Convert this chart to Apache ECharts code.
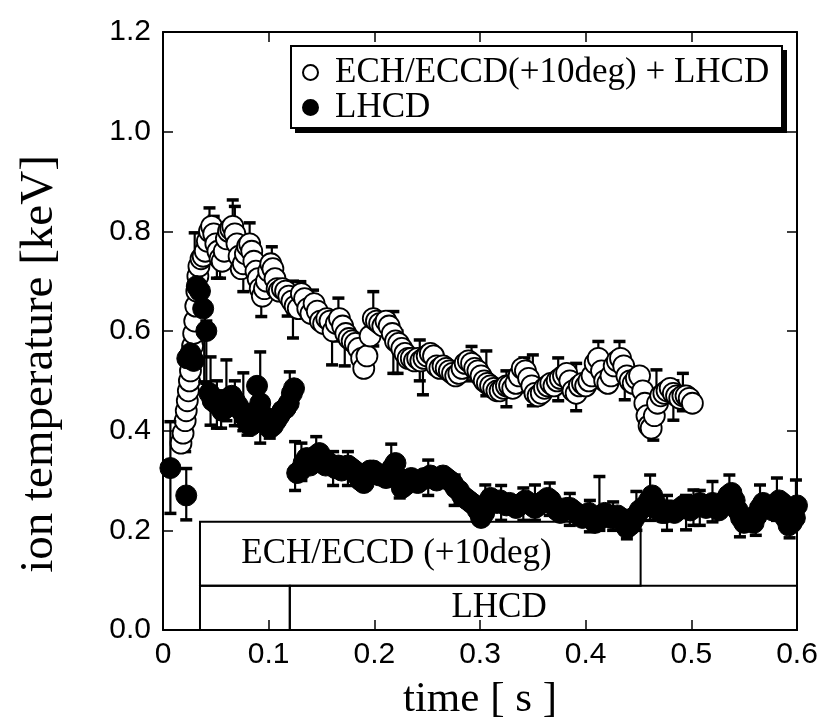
<!DOCTYPE html>
<html><head><meta charset="utf-8">
<script src="https://cdn.jsdelivr.net/npm/echarts@6/dist/echarts.min.js"></script>
<style>html,body{margin:0;padding:0;background:#fff}#c{width:833px;height:723px}</style>
</head><body><div id="c"></div>
<script>
// ---- data ----
const xTicks = [0, 0.1, 0.2, 0.3, 0.4, 0.5, 0.6];
const yTicks = [0, 0.2, 0.4, 0.6, 0.8, 1.0, 1.2];
const seriesNames = ['ECH/ECCD(+10deg) + LHCD', 'LHCD'];

const openX = [0.017,0.019,0.021,0.022,0.023,0.024,0.025,0.026,0.027,0.028,0.029,0.030,0.031,0.032,0.033,0.034,0.036,0.038,0.040,0.042,0.044,0.046,0.048,0.050,0.052,0.054,0.056,0.058,0.060,0.062,0.064,0.066,0.068,0.070,0.072,0.074,0.076,0.078,0.080,0.082,0.084,0.086,0.088,0.090,0.092,0.094,0.096,0.098,0.100,0.102,0.104,0.106,0.108,0.110,0.113,0.116,0.119,0.122,0.125,0.128,0.131,0.134,0.137,0.140,0.143,0.146,0.149,0.152,0.155,0.158,0.161,0.164,0.167,0.170,0.173,0.176,0.179,0.182,0.185,0.188,0.190,0.193,0.196,0.199,0.202,0.205,0.208,0.211,0.214,0.217,0.220,0.223,0.226,0.229,0.232,0.235,0.238,0.241,0.244,0.247,0.250,0.253,0.256,0.259,0.262,0.265,0.268,0.271,0.274,0.277,0.280,0.283,0.286,0.289,0.292,0.295,0.298,0.301,0.304,0.307,0.310,0.313,0.316,0.319,0.322,0.325,0.328,0.331,0.334,0.337,0.340,0.343,0.346,0.349,0.352,0.355,0.358,0.361,0.364,0.367,0.370,0.373,0.376,0.379,0.382,0.385,0.388,0.391,0.394,0.397,0.400,0.403,0.406,0.409,0.412,0.415,0.418,0.421,0.424,0.427,0.430,0.433,0.436,0.439,0.442,0.445,0.448,0.451,0.454,0.456,0.458,0.460,0.462,0.465,0.468,0.471,0.474,0.477,0.480,0.483,0.486,0.489,0.492,0.495,0.498,0.501];
const openY = [0.375,0.395,0.42,0.44,0.46,0.48,0.50,0.52,0.545,0.57,0.595,0.62,0.65,0.68,0.71,0.73,0.745,0.75,0.76,0.78,0.80,0.81,0.795,0.775,0.76,0.745,0.74,0.76,0.785,0.80,0.805,0.81,0.795,0.775,0.75,0.725,0.735,0.755,0.77,0.775,0.76,0.74,0.72,0.705,0.685,0.67,0.685,0.70,0.72,0.735,0.725,0.705,0.685,0.68,0.685,0.68,0.67,0.66,0.65,0.645,0.675,0.665,0.645,0.635,0.655,0.64,0.62,0.615,0.625,0.62,0.60,0.615,0.625,0.61,0.595,0.585,0.58,0.575,0.565,0.545,0.525,0.55,0.59,0.625,0.62,0.615,0.61,0.62,0.61,0.595,0.58,0.575,0.565,0.555,0.545,0.545,0.54,0.545,0.54,0.545,0.55,0.555,0.55,0.53,0.525,0.53,0.525,0.52,0.515,0.51,0.515,0.525,0.535,0.54,0.535,0.525,0.52,0.51,0.50,0.495,0.49,0.485,0.48,0.48,0.485,0.49,0.49,0.485,0.495,0.51,0.525,0.52,0.505,0.49,0.475,0.47,0.475,0.485,0.49,0.495,0.49,0.50,0.505,0.51,0.515,0.50,0.48,0.475,0.49,0.495,0.49,0.50,0.51,0.535,0.545,0.52,0.50,0.495,0.51,0.53,0.54,0.545,0.53,0.51,0.50,0.495,0.505,0.51,0.48,0.455,0.43,0.41,0.405,0.43,0.455,0.47,0.475,0.48,0.485,0.475,0.47,0.465,0.47,0.47,0.465,0.455];

const lhX = [0.007,0.022,0.023,0.026,0.029,0.032,0.035,0.038,0.041,0.044,0.047,0.050,0.053,0.056,0.059,0.062,0.065,0.068,0.071,0.074,0.077,0.080,0.083,0.086,0.089,0.092,0.095,0.098,0.101,0.104,0.107,0.110,0.113,0.116,0.119,0.122,0.124,0.127,0.130,0.133,0.136,0.139,0.142,0.145,0.148,0.151,0.154,0.157,0.160,0.163,0.166,0.169,0.172,0.175,0.178,0.181,0.184,0.187,0.190,0.193,0.196,0.199,0.202,0.205,0.208,0.211,0.214,0.217,0.220,0.223,0.226,0.229,0.232,0.235,0.238,0.241,0.244,0.247,0.250,0.253,0.256,0.259,0.262,0.265,0.268,0.271,0.274,0.277,0.280,0.283,0.286,0.289,0.292,0.295,0.298,0.301,0.304,0.307,0.310,0.313,0.316,0.319,0.322,0.325,0.328,0.331,0.334,0.337,0.340,0.343,0.346,0.349,0.352,0.355,0.358,0.361,0.364,0.367,0.370,0.373,0.376,0.379,0.382,0.385,0.388,0.391,0.394,0.397,0.400,0.403,0.406,0.409,0.412,0.415,0.418,0.421,0.424,0.427,0.430,0.433,0.436,0.439,0.442,0.445,0.448,0.451,0.454,0.457,0.460,0.463,0.466,0.469,0.472,0.475,0.478,0.481,0.484,0.487,0.490,0.493,0.496,0.499,0.502,0.505,0.508,0.511,0.514,0.517,0.520,0.523,0.526,0.529,0.532,0.535,0.538,0.541,0.544,0.547,0.550,0.553,0.556,0.559,0.562,0.565,0.568,0.571,0.574,0.577,0.580,0.583,0.586,0.589,0.592,0.595,0.598,0.600];
const lhY = [0.325,0.27,0.545,0.555,0.54,0.69,0.68,0.645,0.60,0.475,0.46,0.455,0.45,0.44,0.445,0.455,0.47,0.46,0.45,0.44,0.43,0.415,0.41,0.435,0.49,0.455,0.43,0.415,0.405,0.41,0.42,0.43,0.44,0.445,0.455,0.475,0.485,0.315,0.32,0.335,0.345,0.33,0.34,0.35,0.355,0.335,0.33,0.335,0.33,0.325,0.33,0.32,0.325,0.33,0.325,0.32,0.31,0.30,0.295,0.31,0.32,0.32,0.315,0.31,0.31,0.305,0.31,0.325,0.335,0.305,0.285,0.29,0.30,0.305,0.30,0.295,0.30,0.305,0.305,0.31,0.305,0.30,0.305,0.31,0.305,0.30,0.295,0.285,0.28,0.27,0.265,0.26,0.255,0.25,0.24,0.225,0.235,0.255,0.265,0.26,0.255,0.26,0.255,0.25,0.255,0.25,0.245,0.25,0.255,0.26,0.255,0.25,0.245,0.25,0.255,0.26,0.265,0.26,0.25,0.24,0.235,0.24,0.245,0.245,0.24,0.235,0.23,0.225,0.23,0.235,0.225,0.215,0.22,0.23,0.235,0.23,0.225,0.225,0.23,0.225,0.215,0.205,0.21,0.22,0.23,0.24,0.245,0.25,0.26,0.27,0.255,0.24,0.235,0.235,0.24,0.24,0.235,0.24,0.245,0.25,0.245,0.24,0.245,0.25,0.255,0.25,0.245,0.25,0.255,0.25,0.24,0.25,0.26,0.27,0.275,0.26,0.24,0.225,0.215,0.22,0.225,0.215,0.23,0.245,0.255,0.25,0.245,0.24,0.25,0.26,0.255,0.225,0.21,0.215,0.225,0.25,0.26];

// visible error bars: [time, lower, upper]
const openErr = [[0.021,0.358,0.40],[0.030,0.50,0.797],[0.044,0.77,0.847],[0.048,0.76,0.83],[0.051,0.706,0.80],[0.054,0.706,0.78],[0.066,0.76,0.863],[0.068,0.75,0.85],[0.076,0.679,0.77],[0.082,0.74,0.817],[0.093,0.629,0.70],[0.103,0.70,0.769],[0.118,0.63,0.669],[0.123,0.586,0.70],[0.130,0.64,0.699],[0.142,0.62,0.682],[0.160,0.532,0.64],[0.166,0.58,0.666],[0.172,0.53,0.62],[0.199,0.57,0.679],[0.218,0.515,0.639],[0.222,0.515,0.60],[0.243,0.50,0.582],[0.246,0.472,0.56],[0.292,0.50,0.569],[0.306,0.47,0.56],[0.325,0.448,0.52],[0.342,0.48,0.546],[0.350,0.45,0.552],[0.374,0.46,0.546],[0.391,0.44,0.535],[0.412,0.50,0.579],[0.432,0.50,0.579],[0.437,0.462,0.54],[0.464,0.381,0.44],[0.467,0.43,0.522],[0.483,0.421,0.50],[0.492,0.44,0.515]];
const lhErr = [[0.007,0.234,0.418],[0.022,0.221,0.324],[0.039,0.498,0.60],[0.041,0.495,0.62],[0.045,0.411,0.548],[0.051,0.405,0.50],[0.055,0.405,0.48],[0.060,0.42,0.542],[0.068,0.41,0.50],[0.076,0.40,0.516],[0.080,0.391,0.45],[0.092,0.375,0.558],[0.101,0.385,0.44],[0.120,0.44,0.518],[0.125,0.28,0.378],[0.131,0.30,0.375],[0.145,0.32,0.388],[0.161,0.29,0.358],[0.175,0.29,0.358],[0.216,0.29,0.373],[0.224,0.265,0.31],[0.251,0.27,0.341],[0.276,0.25,0.311],[0.305,0.22,0.291],[0.320,0.22,0.29],[0.341,0.22,0.285],[0.352,0.22,0.291],[0.366,0.23,0.295],[0.385,0.21,0.274],[0.404,0.197,0.26],[0.413,0.20,0.308],[0.426,0.20,0.257],[0.439,0.183,0.24],[0.448,0.20,0.278],[0.461,0.22,0.311],[0.477,0.20,0.27],[0.495,0.201,0.27],[0.502,0.21,0.281],[0.508,0.21,0.28],[0.520,0.217,0.298],[0.536,0.24,0.311],[0.546,0.187,0.25],[0.561,0.19,0.25],[0.565,0.22,0.291],[0.581,0.22,0.305],[0.593,0.185,0.24],[0.599,0.22,0.301]];

// heating period boxes: [start, end, lower, upper]
const heatingBoxes = [[0.035,0.452,0.089,0.217],[0.035,0.12,0,0.089],[0.12,0.6,0,0.089]];
const heatingLabels = [['ECH/ECCD (+10deg)', 0.221, 0.153],['LHCD', 0.318, 0.044]];

// ---- chart ----
const chart = echarts.init(document.getElementById('c'));
const serif = '"Liberation Serif", "Times New Roman", serif';
const sans = '"Liberation Sans", Arial, sans-serif';

function errSeries(data) {
  return {
    type: 'custom', silent: true, data: data, encode: {x: 0, y: [1, 2]},
    renderItem: function (params, api) {
      const x = api.value(0);
      const p1 = api.coord([x, api.value(1)]);
      const p2 = api.coord([x, api.value(2)]);
      const cw = 6;
      const st = {stroke: '#000', lineWidth: 2.2};
      const cs = {stroke: '#000', lineWidth: 3.5};
      return {type: 'group', children: [
        {type: 'line', shape: {x1: p1[0], y1: p1[1], x2: p2[0], y2: p2[1]}, style: st},
        {type: 'line', shape: {x1: p1[0] - cw, y1: p1[1], x2: p1[0] + cw, y2: p1[1]}, style: cs},
        {type: 'line', shape: {x1: p2[0] - cw, y1: p2[1], x2: p2[0] + cw, y2: p2[1]}, style: cs}
      ]};
    }
  };
}

const axisCommon = {
  axisLine: {show: true, onZero: false, lineStyle: {color: '#000', width: 2}},
  axisTick: {show: true, inside: true, length: 10, lineStyle: {color: '#000', width: 1.5}},
  splitLine: {show: false}
};

chart.setOption({
  animation: false,
  backgroundColor: '#fff',
  grid: {left: 163, right: 36, top: 32, bottom: 93},
  xAxis: [
    Object.assign({type: 'value', min: xTicks[0], max: xTicks[xTicks.length - 1], interval: 0.1, position: 'bottom',
      axisLabel: {color: '#000', fontFamily: sans, fontSize: 30, margin: 10,
        formatter: v => (Math.abs(v) < 1e-9 ? '0' : v.toFixed(1))}}, axisCommon),
    Object.assign({type: 'value', min: xTicks[0], max: xTicks[xTicks.length - 1], interval: 0.1, position: 'top',
      axisLabel: {show: false}}, axisCommon)
  ],
  yAxis: [
    Object.assign({type: 'value', min: yTicks[0], max: yTicks[yTicks.length - 1], interval: 0.2, position: 'left',
      axisLabel: {color: '#000', fontFamily: sans, fontSize: 30, margin: 12, formatter: v => v.toFixed(1)}}, axisCommon),
    Object.assign({type: 'value', min: yTicks[0], max: yTicks[yTicks.length - 1], interval: 0.2, position: 'right',
      axisLabel: {show: false}}, axisCommon)
  ],
  legend: {
    orient: 'vertical', left: 290, top: 47,
    data: seriesNames,
    itemWidth: 15, itemHeight: 15, itemGap: 0,
    padding: [8, 10, 6, 12],
    textStyle: {color: '#000', fontFamily: serif, fontSize: 35, lineHeight: 34, padding: [0, 0, 0, 12]},
    z: 10
  },
  graphic: [
    {type: 'rect', z: 8, shape: {x: 295, y: 50, width: 492, height: 83}, style: {fill: '#000'}},
    {type: 'rect', z: 9, shape: {x: 291, y: 46, width: 491, height: 82}, style: {fill: '#fff', stroke: '#000', lineWidth: 2}},
    {type: 'text', x: 480, y: 700, style: {text: 'time [ s ]', font: '43px ' + serif, fill: '#000', textAlign: 'center', textVerticalAlign: 'middle'}},
    {type: 'text', x: 40, y: 364, rotation: Math.PI / 2, style: {text: 'ion temperature [keV]', font: '47px ' + serif, fill: '#000', textAlign: 'center', textVerticalAlign: 'middle'}}
  ],
  series: [
    {type: 'custom', silent: true, z: 1, data: heatingBoxes,
      renderItem: function (params, api) {
        const a = api.coord([api.value(0), api.value(3)]);
        const b = api.coord([api.value(1), api.value(2)]);
        return {type: 'rect', shape: {x: a[0], y: a[1], width: b[0] - a[0], height: b[1] - a[1]},
          style: {fill: 'none', stroke: '#000', lineWidth: 2}};
      }},
    {type: 'custom', silent: true, z: 1, data: heatingLabels.map(l => [l[1], l[2]]),
      renderItem: function (params, api) {
        const p = api.coord([api.value(0), api.value(1)]);
        return {type: 'text', x: p[0], y: p[1],
          style: {text: heatingLabels[params.dataIndex][0], font: '35px ' + serif, fill: '#000', textAlign: 'center', textVerticalAlign: 'middle'}};
      }},
    Object.assign(errSeries(openErr), {z: 2}),
    {name: seriesNames[0], type: 'scatter', z: 3, symbol: 'circle', symbolSize: 21,
      itemStyle: {color: '#fff', borderColor: '#000', borderWidth: 1.8, opacity: 1},
      data: openX.map((x, i) => [x, openY[i]])},
    Object.assign(errSeries(lhErr), {z: 4}),
    {name: seriesNames[1], type: 'scatter', z: 5, symbol: 'circle', symbolSize: 21,
      itemStyle: {color: '#000', borderColor: '#000', borderWidth: 1, opacity: 1},
      data: lhX.map((x, i) => [x, lhY[i]])}
  ]
});
</script>
</body></html>
